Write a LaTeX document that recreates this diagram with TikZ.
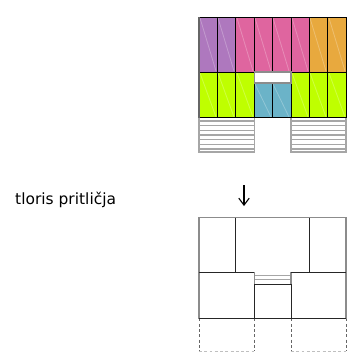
\documentclass[tikz,border=0pt]{standalone}
\usepackage{fontspec}
\usetikzlibrary{arrows.meta}
\setmainfont{DejaVu Sans}
\definecolor{violetcell}{HTML}{AE78BE}
\definecolor{pinkcell}{HTML}{DF659F}
\definecolor{orangecell}{HTML}{E8A93E}
\definecolor{limecell}{HTML}{BFFF00}
\definecolor{tealcell}{HTML}{6BB3C8}
\begin{document}
\begin{tikzpicture}[
x=0.03cm,y=-0.03cm,
violet/.style={fill=violetcell,draw,line width=0.8pt},
pink/.style={fill=pinkcell,draw,line width=0.8pt},
orange/.style={fill=orangecell,draw,line width=0.8pt},
lime/.style={fill=limecell,draw,line width=0.8pt},
teal/.style={fill=tealcell,draw,line width=0.8pt},
hatch/.style={draw=white,opacity=0.25,line width=0.7pt},
tread/.style={draw=black!35,line width=0.9pt},
wall/.style={draw=black!85,line width=0.75pt},
edge/.style={draw=black!45,line width=1pt},
open/.style={draw=black!60,line width=0.8pt,dash pattern=on 2.5pt off 2pt},
label/.style={font=\fontsize{13.2}{15}\selectfont,anchor=west,inner sep=0pt},
]
\useasboundingbox (0,0) rectangle (347,352);
% upper plan, roof
\path[violet]
    (199,17) rectangle +(18.4,55)
    (217.4,17) rectangle +(18.4,55);
\path[pink]
    (235.8,17) rectangle +(18.4,55)
    (254.2,17) rectangle +(18.4,55)
    (272.6,17) rectangle +(18.4,55)
    (291,17) rectangle +(18.4,55);
\path[orange]
    (309.4,17) rectangle +(18.3,55)
    (327.7,17) rectangle +(18.3,55);
\path[hatch]
    (200,18) -- (216,71) (218,18) -- (234,71)
    (237,18) -- (253,71) (255,18) -- (271,71)
    (273,18) -- (289,71) (292,18) -- (308,71)
    (310,18) -- (326,71) (329,18) -- (345,71);
% upper plan, flats
\path[lime]
    (199,72) rectangle +(18.4,45.5)
    (217.4,72) rectangle +(18.4,45.5)
    (235.8,72) rectangle +(18.4,45.5)
    (291,72) rectangle +(18.4,45.5)
    (309.4,72) rectangle +(18.3,45.5)
    (327.7,72) rectangle +(18.3,45.5);
\path[teal]
    (254.2,83) rectangle +(18.4,34.5)
    (272.6,83) rectangle +(18.4,34.5);
\path[fill=white,edge] (254.2,72) rectangle (291,83);
\path[hatch]
    (200,73) -- (216,117) (218,73) -- (234,117)
    (237,73) -- (253,117) (255,84) -- (271,117)
    (273,84) -- (289,117) (292,73) -- (308,117)
    (310,73) -- (326,117) (329,73) -- (345,117);
% outer wall of the upper plan
\path[edge,draw=black!60] (199,17) -- (199,117.5);
% upper plan, stairs
\path[tread]
    (199,118) -- (199,152) -- (254.2,152) -- (254.2,118)
    (199,121) -- +(55.2,0) (199,125.7) -- +(55.2,0)
    (199,130.3) -- +(55.2,0) (199,135) -- +(55.2,0)
    (199,139.7) -- +(55.2,0) (199,144.3) -- +(55.2,0)
    (199,149) -- +(55.2,0)
    (291,118) -- (291,152) -- (346,152) -- (346,118)
    (291,121) -- +(55,0) (291,125.7) -- +(55,0)
    (291,130.3) -- +(55,0) (291,135) -- +(55,0)
    (291,139.7) -- +(55,0) (291,144.3) -- +(55,0)
    (291,149) -- +(55,0);
% title and arrow
\node[label] (title) at (15,199.5) {tloris pritličja};
\coordinate (arrowtop) at (244,185);
\coordinate (arrowtip) at (244,206);
\draw[line width=0.9pt,-{Straight Barb[length=6pt,width=9pt]}] (arrowtop) -- (arrowtip);
% lower plan
\path[tread]
    (254.2,275.5) -- +(36.8,0) (254.2,279.5) -- +(36.8,0);
\path[edge]
    (199,272) -- (199,217.5) -- (346,217.5) -- (346,272)
    (199,272) -- (199,318.5) (346,272) -- (346,318.5)
    (254.2,272) -- (254.2,284) (291,272) -- (291,284);
\path[wall]
    (199,272) -- (254.2,272) (291,272) -- (346,272)
    (235.8,217.5) -- (235.8,272) (309.4,217.5) -- (309.4,272)
    (254.2,284) rectangle (291,318.5)
    (199,318.5) -- (346,318.5);
\path[open]
    (199,318.5) -- (199,351) (254.2,318.5) -- (254.2,351)
    (291,318.5) -- (291,351) (346,318.5) -- (346,351);
\path[open,draw=black!25]
    (199,351) -- (254.2,351) (291,351) -- (346,351);
\end{tikzpicture}
\end{document}
